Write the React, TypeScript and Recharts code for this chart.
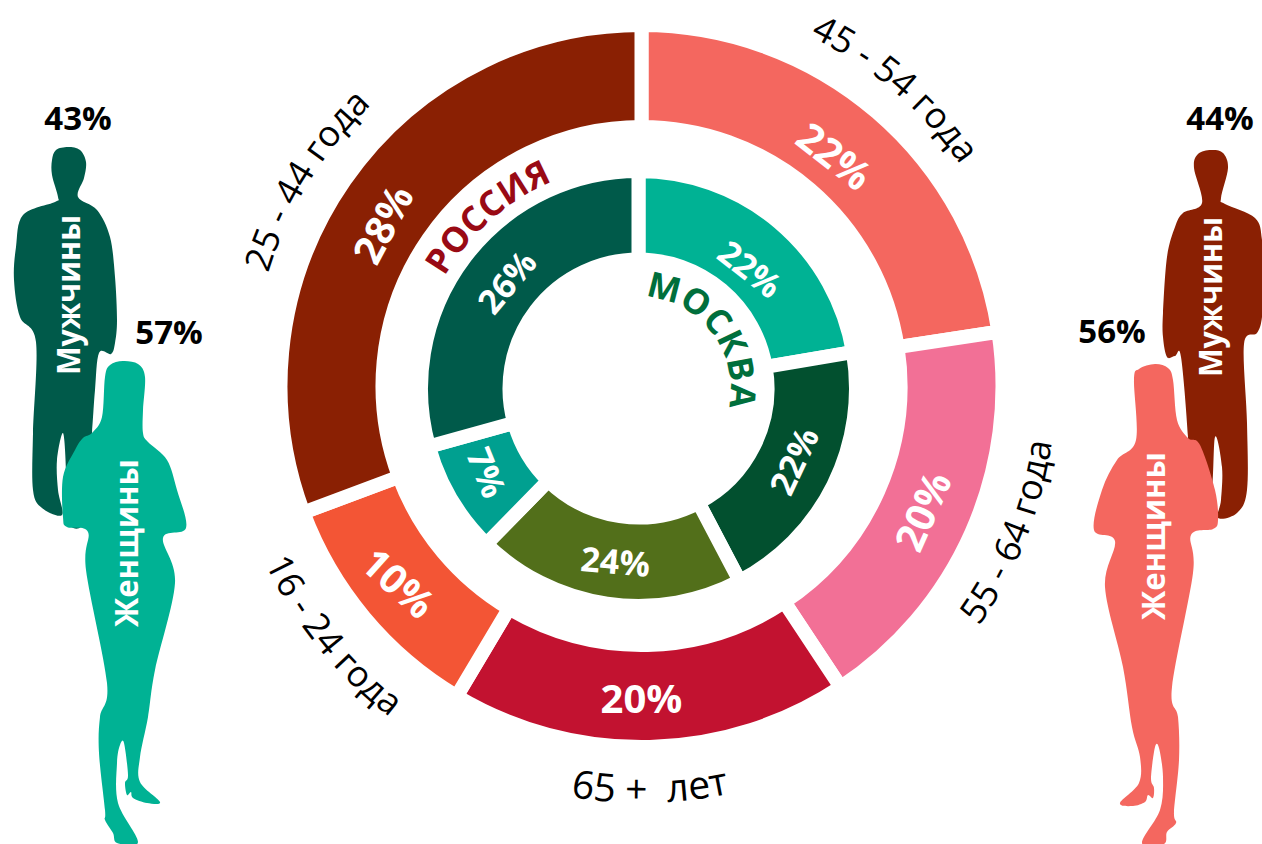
import { Pie, PieChart, Cell } from 'recharts';

const outerAges = ['45 - 54 года', '55 - 64 года', '65 +  лет', '16 - 24 года', '25 - 44 года'];
const outerShares = [22.6, 18.1, 17.85, 10.75, 30.7];
const outerLabels = ['22%', '20%', '20%', '10%', '28%'];
const outerColors = ['#f4675f', '#f27096', '#c21230', '#f35535', '#8a2003'];

const innerNames = ['МОСКВА', '', '', '', 'РОССИЯ'];
const innerShares = [22.33, 19.97, 20.03, 8.37, 29.3];
const innerLabels = ['22%', '22%', '24%', '7%', '26%'];
const innerColors = ['#00b294', '#02502f', '#526f1a', '#00a090', '#005a4a'];

const menRussia = '43%';
const womenRussia = '57%';
const menMoscow = '44%';
const womenMoscow = '56%';

const FONT = '"Open Sans", sans-serif';

// where the percent text sits on each slice: clock angle, radius, text rotation
const outerPlacement = [
  [40, 301, 38],
  [114, 307, -66],
  [180, 311, 0],
  [231, 312, 42],
  [302, 306, -62],
];
const innerPlacement = [
  [43, 164, 38],
  [115, 171, -65],
  [187.6, 174, 5],
  [241, 173, 68],
  [309, 170, -50],
];
// curved captions: middle clock angle, half span of the guide arc, baseline radius, clockwise or not, font size
const agePlacement = [
  [40.5, 35, 388, true, 36],
  [111.6, 35, 414, false, 36],
  [178.8, 35, 417, false, 39],
  [231, 35, 416, false, 36],
  [301.5, 35, 390, true, 36],
];
const namePlacement = [
  [53, 70, 92, true],
  null,
  null,
  null,
  [318.7, 35, 224, true],
];

function polar(cx: number, cy: number, r: number, deg: number) {
  const a = (deg * Math.PI) / 180;
  return [cx + r * Math.sin(a), cy - r * Math.cos(a)];
}

// circular arc for text, clockwise when to > from
function arcPath(cx: number, cy: number, r: number, from: number, to: number) {
  const [x1, y1] = polar(cx, cy, r, from);
  const [x2, y2] = polar(cx, cy, r, to);
  const sweep = to > from ? 1 : 0;
  return `M${x1} ${y1}A${r} ${r} 0 0 ${sweep} ${x2} ${y2}`;
}

function ArcText({ id, d, text, size, fill, weight, spacing }: any) {
  return (
    <g>
      <path id={id} d={d} fill="none" />
      <text fill={fill} fontFamily={FONT} fontWeight={weight} fontSize={size} letterSpacing={spacing} textAnchor="middle" xmlSpace="preserve">
        <textPath href={`#${id}`} startOffset="50%">
          {text}
        </textPath>
      </text>
    </g>
  );
}

// Pie labels sit above the white slice strokes, so the curved captions go here too
function sliceLabel(texts: string[], placement: number[][], size: number, caption: (p: any) => any) {
  return (props: any) => {
    const [deg, r, rot] = placement[props.index];
    const [x, y] = polar(props.cx, props.cy, r, deg);
    return (
      <g>
        <text
          x={x}
          y={y}
          transform={`rotate(${rot} ${x} ${y})`}
          textAnchor="middle"
          dominantBaseline="central"
          fill="#fff"
          fontFamily={FONT}
          fontWeight={700}
          fontSize={size}
        >
          {texts[props.index]}
        </text>
        {caption(props)}
      </g>
    );
  };
}

function ageCaption(props: any) {
  const [mid, half, r, cw, size] = agePlacement[props.index] as any[];
  const d = cw ? arcPath(props.cx, props.cy, r, mid - half, mid + half) : arcPath(props.cx, props.cy, r, mid + half, mid - half);
  return <ArcText id={`age${props.index}`} d={d} text={outerAges[props.index]} size={size} fill="#000" weight={400} />;
}

function nameCaption(props: any) {
  const place = namePlacement[props.index] as any[] | null;
  if (!place) return null;
  const [mid, half, r] = place;
  const d = arcPath(props.cx, props.cy, r, mid - half, mid + half);
  const russia = props.index === 4;
  return (
    <ArcText
      id={`name${props.index}`}
      d={d}
      text={innerNames[props.index]}
      size={35}
      fill={russia ? '#990a14' : '#006f3c'}
      weight={700}
      spacing={russia ? 0 : 0.5}
    />
  );
}

// smooth closed outline through the given points
function smooth(pts: number[][]) {
  const n = pts.length;
  let d = `M${pts[0][0]} ${pts[0][1]}`;
  for (let i = 0; i < n; i++) {
    const p0 = pts[(i - 1 + n) % n];
    const p1 = pts[i];
    const p2 = pts[(i + 1) % n];
    const p3 = pts[(i + 2) % n];
    const c1x = p1[0] + (p2[0] - p0[0]) / 6;
    const c1y = p1[1] + (p2[1] - p0[1]) / 6;
    const c2x = p2[0] - (p3[0] - p1[0]) / 6;
    const c2y = p2[1] - (p3[1] - p1[1]) / 6;
    d += `C${c1x} ${c1y} ${c2x} ${c2y} ${p2[0]} ${p2[1]}`;
  }
  return d + 'Z';
}

const manLeft = [
  [68, 147], [80, 150], [86, 162], [84, 178], [78, 197], [97, 210], [110, 237], [115, 277], [117, 320], [115, 343],
  [111, 354], [99, 353], [95, 390], [92, 433], [85, 520], [66, 520], [66, 470], [63, 433], [57, 460], [58, 490],
  [62, 515], [42, 508], [33, 490], [33, 433], [36, 342], [20, 317], [14, 280], [16, 247], [23, 215], [55, 202],
  [58, 197], [52, 175], [52, 160], [56, 150],
];
const womanLeft = [
  [123, 361], [138, 364], [145, 377], [143, 410], [143, 433], [148, 442], [167, 460], [177, 490], [186, 528], [163, 538],
  [175, 583], [155, 670], [148, 717], [140, 757], [140, 782], [160, 802], [147, 803], [133, 798], [131, 792], [127, 795],
  [125, 783], [128, 775], [124, 743], [120, 745], [117, 763], [118, 803], [138, 842], [117, 843], [113, 833], [105, 820],
  [105, 810], [99, 753], [100, 717], [107, 683], [86, 570], [88, 532], [67, 527], [63, 517], [63, 477], [75, 450],
  [83, 438], [92, 433], [102, 417], [105, 377], [110, 365],
];
const manRight = [
  [1211, 150], [1223, 153], [1228, 168], [1221, 198], [1225, 204], [1255, 218], [1262, 240], [1264, 280], [1262, 317],
  [1257, 333], [1244, 344], [1247, 423], [1247, 490], [1237, 513], [1218, 518], [1221, 500], [1222, 467], [1215, 437],
  [1210, 500], [1190, 500], [1188, 437], [1181, 357], [1175, 356], [1167, 357], [1163, 337], [1163, 313], [1167, 257],
  [1175, 227], [1183, 213], [1202, 203], [1194, 168], [1198, 154],
];
const womanRight = [
  [1155, 364], [1139, 369], [1134, 380], [1136, 440], [1117, 460], [1102, 490], [1094, 530], [1115, 541], [1105, 587],
  [1123, 667], [1132, 727], [1140, 757], [1139, 783], [1120, 803], [1133, 806], [1145, 802], [1148, 795], [1153, 798],
  [1154, 788], [1151, 778], [1155, 747], [1159, 748], [1163, 777], [1160, 810], [1142, 843], [1164, 844], [1167, 832],
  [1176, 823], [1174, 812], [1179, 760], [1178, 717], [1172, 687], [1193, 573], [1191, 535], [1213, 529], [1218, 520],
  [1215, 490], [1200, 445], [1188, 438], [1177, 420], [1173, 380], [1168, 368],
];

function VerticalWord({ x, y, text, length }: any) {
  return (
    <text
      x={x}
      y={y}
      transform={`rotate(-90 ${x} ${y})`}
      fill="#fff"
      fontFamily={FONT}
      fontWeight={700}
      fontSize={32}
      textLength={length}
      lengthAdjust="spacingAndGlyphs"
    >
      {text}
    </text>
  );
}

function Share({ x, y, text }: any) {
  return (
    <text x={x} y={y} textAnchor="middle" fill="#000" fontFamily={FONT} fontWeight={700} fontSize={33}>
      {text}
    </text>
  );
}

export default function App() {
  return (
    <div style={{ position: 'absolute', left: 0, top: 0, width: 1262, height: 844 }}>
      <PieChart width={1262} height={844} margin={{ top: 0, right: 0, bottom: 0, left: 0 }}>
        <path d={smooth(manLeft)} fill="#005a4a" />
        <path d={smooth(womanLeft)} fill="#00b294" />
        <path d={smooth(manRight)} fill="#8a2003" />
        <path d={smooth(womanRight)} fill="#f4675f" />
        <VerticalWord x={80} y={375} text="Мужчины" length={160} />
        <VerticalWord x={138} y={627} text="Женщины" length={168} />
        <VerticalWord x={1222} y={377} text="Мужчины" length={160} />
        <VerticalWord x={1165} y={620} text="Женщины" length={168} />
        <Share x={78} y={130} text={menRussia} />
        <Share x={169} y={344} text={womenRussia} />
        <Share x={1220} y={130} text={menMoscow} />
        <Share x={1112} y={343} text={womenMoscow} />

        <Pie
          data={outerShares.map((v, i) => ({ name: outerAges[i], value: v }))}
          dataKey="value"
          cx={641.5}
          cy={386}
          innerRadius={259}
          outerRadius={361}
          startAngle={90}
          endAngle={-270}
          stroke="#fff"
          strokeWidth={14}
          labelLine={false}
          label={sliceLabel(outerLabels, outerPlacement, 40, ageCaption)}
          isAnimationActive={false}
        >
          {outerColors.map((c) => (
            <Cell key={c} fill={c} />
          ))}
        </Pie>
        <Pie
          data={innerShares.map((v, i) => ({ name: innerLabels[i], value: v }))}
          dataKey="value"
          cx={638.5}
          cy={388.5}
          innerRadius={129}
          outerRadius={217.5}
          startAngle={90}
          endAngle={-270}
          stroke="#fff"
          strokeWidth={14}
          labelLine={false}
          label={sliceLabel(innerLabels, innerPlacement, 34, nameCaption)}
          isAnimationActive={false}
        >
          {innerColors.map((c) => (
            <Cell key={c} fill={c} />
          ))}
        </Pie>
      </PieChart>
    </div>
  );
}
